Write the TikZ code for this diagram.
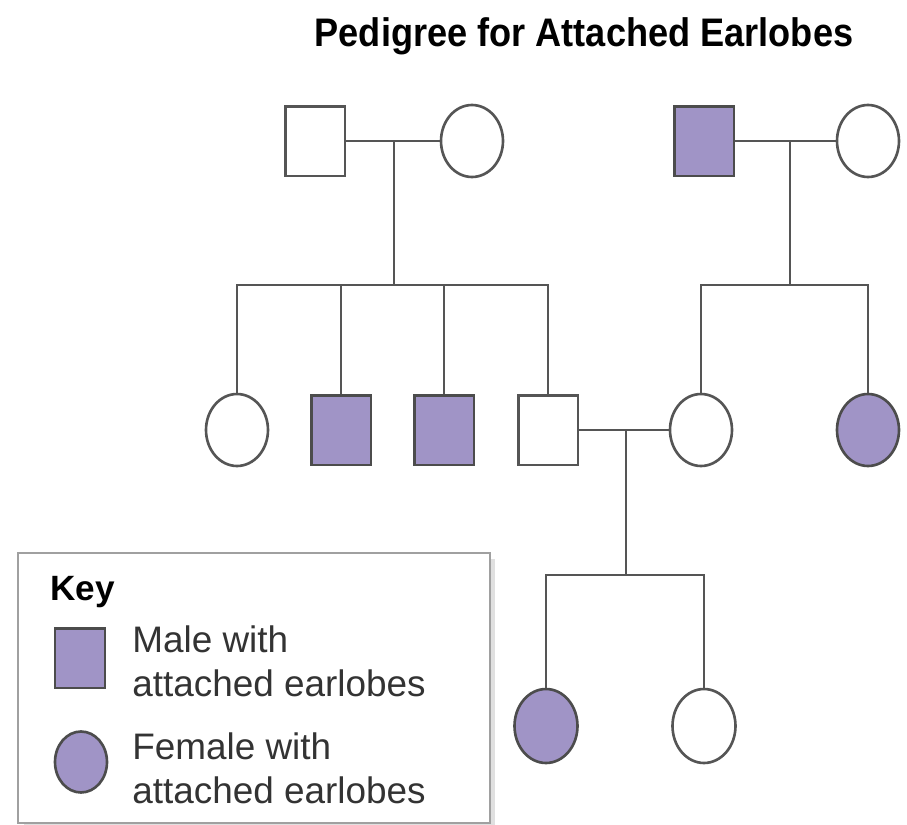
\documentclass[tikz,border=0pt]{standalone}
\usepackage{fontspec}
\setmainfont{Liberation Sans}
\usetikzlibrary{shapes.geometric}

\definecolor{affected}{HTML}{A094C6}
\definecolor{linegray}{HTML}{555555}
\definecolor{keygray}{HTML}{A0A0A0}

\tikzset{
    male/.style={draw=linegray, line width=1.7pt, fill=white, minimum width=1.2cm, minimum height=1.4cm, inner sep=0pt},
    female/.style={ellipse, draw=linegray, line width=1.5pt, fill=white, minimum width=1.24cm, minimum height=1.44cm, inner sep=0pt},
    affect/.style={fill=affected, draw=black!70},
    link/.style={draw=linegray, line width=1.7pt},
    keytext/.style={anchor=north west, inner sep=0pt, align=left, font=\fontsize{21}{25}\selectfont, text=black!80},
}

\begin{document}
\begin{tikzpicture}[x=0.02cm, y=-0.02cm]
        \useasboundingbox (0,0) rectangle (907,825);

        \node[font=\bfseries\fontsize{21}{25}\selectfont, xscale=0.98, yscale=1.08] (title) at (584,36) {Pedigree for Attached Earlobes};

        % first generation
        \node[male] (m1) at (315,141) {};
        \node[female] (f1) at (472,141) {};
        \node[male, affect] (m2) at (704,141) {};
        \node[female] (f2) at (868,141) {};

        % second generation
        \node[female] (c1) at (237,430) {};
        \node[male, affect] (c2) at (341,430) {};
        \node[male, affect] (c3) at (444,430) {};
        \node[male] (c4) at (548,430) {};
        \node[female] (c5) at (701,430) {};
        \node[female, affect] (c6) at (868,430) {};

        % third generation
        \node[female, affect, minimum width=1.26cm, minimum height=1.48cm] (g1) at (546,726) {};
        \node[female, minimum width=1.26cm, minimum height=1.48cm] (g2) at (704,726) {};

        \coordinate (j1) at (394,141);
        \coordinate (b1) at (394,285);
        \coordinate (j2) at (790,141);
        \coordinate (b2) at (790,285);
        \coordinate (j3) at (626,430);
        \coordinate (b3) at (626,575);

        \draw[link] (m1) -- (f1);
        \draw[link] (m2) -- (f2);
        \draw[link] (c4) -- (c5);
        \draw[link] (j1) -- (b1);
        \draw[link] (j2) -- (b2);
        \draw[link] (j3) -- (b3);

        \draw[link] (c1.north) |- (c4.north |- b1) -- (c4.north);
        \draw[link] (c2.north) -- (c2.north |- b1);
        \draw[link] (c3.north) -- (c3.north |- b1);
        \draw[link] (c5.north) |- (c6.north |- b2) -- (c6.north);
        \draw[link] (g1.north) |- (g2.north |- b3) -- (g2.north);

        % key
        \fill[black!12] (24,559) rectangle (495,827);
        \node[draw=keygray, line width=1.5pt, fill=white, minimum width=9.44cm, minimum height=5.4cm] (keybox) at (254,688) {};
        \node[anchor=base west, inner sep=0pt, font=\bfseries\fontsize{20}{24}\selectfont] (keytitle) at (50,600) {Key};
        \node[male, affect, minimum width=1.0cm, minimum height=1.2cm] (keymale) at (80,658) {};
        \node[female, affect, minimum width=1.04cm, minimum height=1.22cm] (keyfemale) at (81,762) {};
        \node[keytext] (maletext) at (132,625) {Male with\\attached earlobes};
        \node[keytext] (femaletext) at (132,732) {Female with\\attached earlobes};
\end{tikzpicture}
\end{document}
